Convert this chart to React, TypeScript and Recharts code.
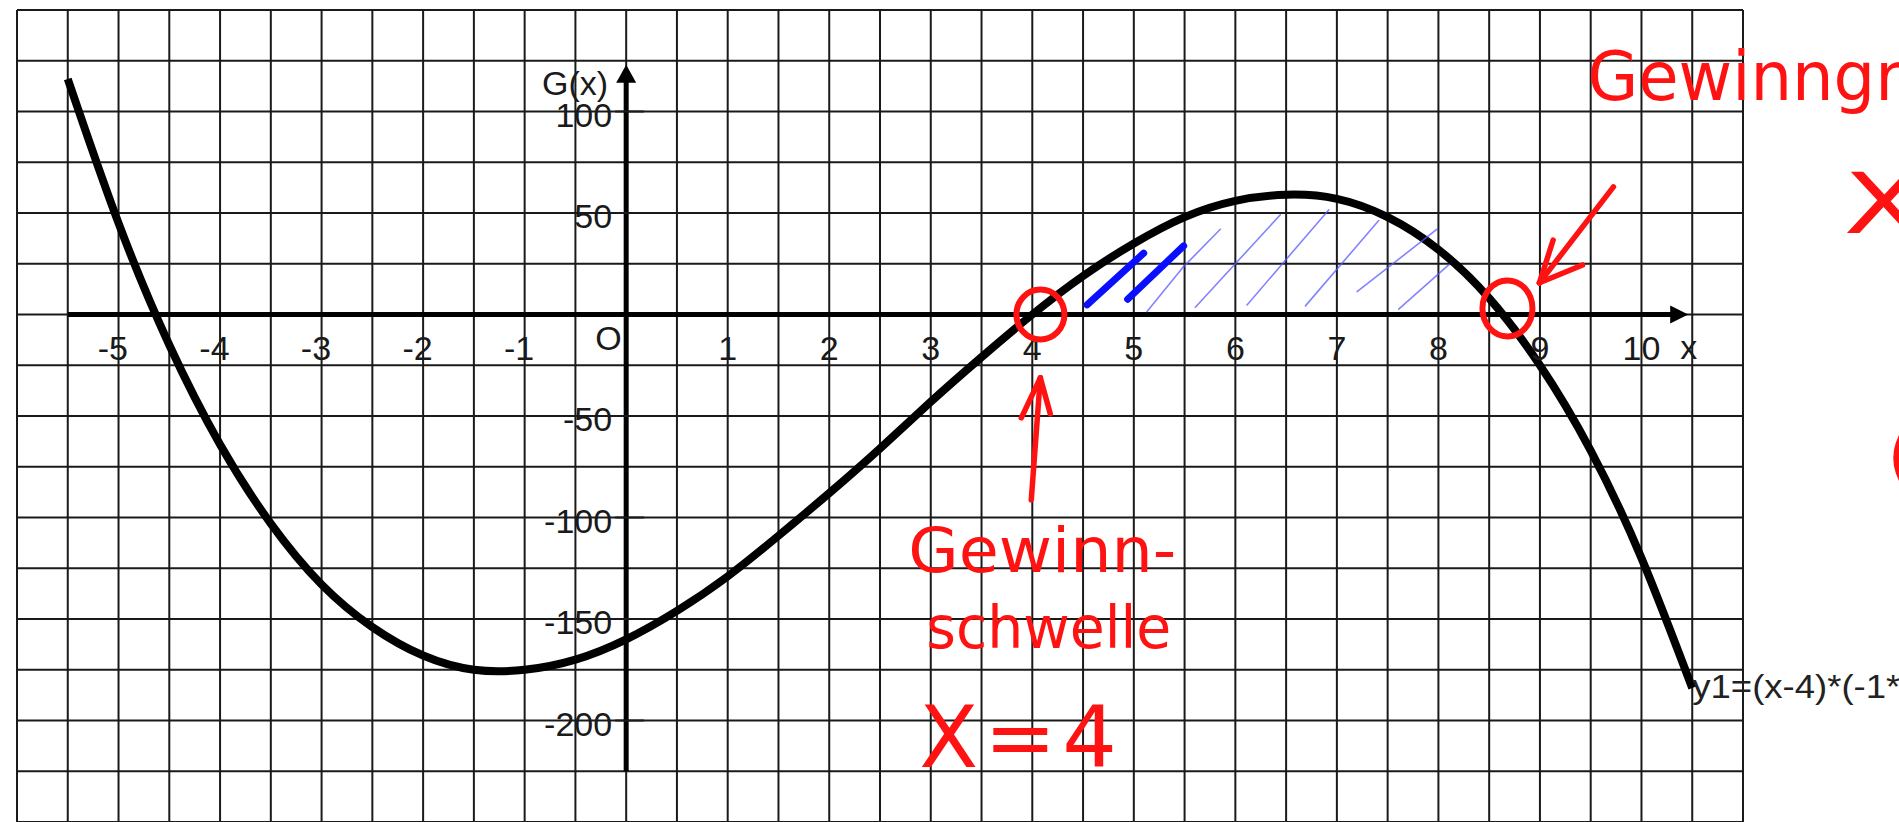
import React from "react";
import {
  CartesianGrid,
  Line,
  LineChart,
  ReferenceDot,
  ReferenceLine,
  XAxis,
  YAxis,
} from "recharts";

const curveX = [
  -5.5, -5, -4.5, -4, -3.5, -3, -2.5, -2, -1.5, -1, -0.5, 0, 0.5, 1, 1.5, 2, 2.5,
  3, 3.5, 4, 4.5, 5, 5.5, 6, 6.5, 7, 7.5, 8, 8.5, 9, 9.5, 10, 10.5,
];
const curveY = [
  116, 45, -15, -64, -103, -133, -154, -168, -175, -175, -170, -160, -146, -129,
  -109, -88, -66, -43, -21, 0, 19, 35, 48, 56, 59, 57, 48, 32, 8, -25, -67, -120,
  -184,
];

// Karopapier: Linien alle 0,5 (x) bzw. 25 (y)
const gridX = [
  -6, -5.5, -5, -4.5, -4, -3.5, -3, -2.5, -2, -1.5, -1, -0.5, 0, 0.5, 1, 1.5, 2,
  2.5, 3, 3.5, 4, 4.5, 5, 5.5, 6, 6.5, 7, 7.5, 8, 8.5, 9, 9.5, 10, 10.5, 11,
];
const gridY = [
  150, 125, 100, 75, 50, 25, 0, -25, -50, -75, -100, -125, -150, -175, -200, -225,
  -250,
];

const xTicks = [-5, -4, -3, -2, -1, 1, 2, 3, 4, 5, 6, 7, 8, 9, 10];
const yTicks = [100, 50, -50, -100, -150, -200];

// Achsen (Datenkoordinaten)
const xAxisFrom = -5.5;
const xAxisTo = 10.3;
const xArrowTip = 10.46;
const yAxisFrom = -225;
const yAxisTo = 118;
const yArrowTip = 123;

const formulaLabel = "y1=(x-4)*(-1*x^2+4*x+40)";

// rote Markierungen
const rootMarks = [
  { x: 4.08, y: 0 },
  { x: 8.68, y: 3 },
];
const redStrokes = [
  [[3.99, -91.3], [4.079, -31.2]],
  [[4.079, -31.2], [3.892, -50.9]],
  [[4.079, -31.2], [4.177, -48.9]],
  [[9.724, 62.9], [8.995, 15.6]],
  [[8.995, 15.6], [9.13, 36.7]],
  [[8.995, 15.6], [9.42, 24.4]],
];
const redNotes = [
  { text: "Gewinn-", x: 2.778, y: -126.8 },
  { text: "schwelle", x: 2.956, y: -164.3 },
  { text: "X=4", x: 2.887, y: -222.9 },
  { text: "Gewinngrenze", x: 9.468, y: 105.8 },
  { text: "X", x: 11.99, y: 40.2 },
  { text: "(", x: 12.42, y: -81.5 },
];

// blaue Schraffur
const blueThick = [
  [[4.539, 4.73], [5.097, 30.2]],
  [[4.939, 7.54], [5.491, 33.8]],
];
const blueThin = [
  [[5.13, 1.43], [5.491, 23.6]],
  [[5.491, 23.6], [5.852, 42.0]],
  [[5.606, 3.6], [6.443, 49.1]],
  [[6.115, 4.73], [6.919, 51.5]],
  [[6.69, 4.24], [7.412, 46.3]],
  [[7.199, 11.3], [7.987, 42.0]],
  [[7.609, 2.61], [8.101, 24.4]],
];

const curve = curveX.map((x, i) => ({ x, y: curveY[i] }));
const lastPoint = curve[curve.length - 1];

const INK = "#1a1a1a";
const RED = "#ff1212";
const labelFont = { fontFamily: "'Liberation Sans', Arial, sans-serif", fontSize: 34, fill: INK };
const handFont = { fontFamily: "'DejaVu Sans', sans-serif", fill: RED };
const noteStyle: Record<string, { fontSize: number; textLength?: number; letterSpacing?: number }> = {
  "Gewinn-": { fontSize: 62, textLength: 268 },
  schwelle: { fontSize: 58, textLength: 245 },
  "X=4": { fontSize: 86, letterSpacing: 6 },
  Gewinngrenze: { fontSize: 68, textLength: 470 },
  X: { fontSize: 84, textLength: 80 },
  "(": { fontSize: 70 },
};

const seg = (s: number[][]) => [
  { x: s[0][0], y: s[0][1] },
  { x: s[1][0], y: s[1][1] },
];

export default function App() {
  return (
    <div style={{ position: "absolute", left: 0, top: 0, width: 1899, height: 822, background: "#fff", overflow: "hidden" }}>
      <LineChart width={1899} height={822} data={curve} margin={{ top: 10, right: 156, bottom: 0, left: 17 }}>
        <XAxis type="number" dataKey="x" domain={[-6, 11]} ticks={gridX} hide />
        <YAxis type="number" domain={[-250, 150]} ticks={gridY} hide />
        <CartesianGrid stroke={INK} strokeWidth={2} />

        {/* Achsen */}
        <ReferenceLine segment={[{ x: xAxisFrom, y: 0 }, { x: xAxisTo, y: 0 }]} stroke="#000" strokeWidth={5} />
        <ReferenceLine segment={[{ x: 0, y: yAxisFrom }, { x: 0, y: yAxisTo }]} stroke="#000" strokeWidth={5} />
        <ReferenceDot
          x={xArrowTip}
          y={0}
          shape={(p: any) => (
            <g>
              <polygon points={`${p.cx},${p.cy} ${p.cx - 18},${p.cy - 9} ${p.cx - 18},${p.cy + 9}`} fill="#000" />
              <text x={p.cx - 8} y={p.cy + 44} {...labelFont}>x</text>
            </g>
          )}
        />
        <ReferenceDot
          x={0}
          y={yArrowTip}
          shape={(p: any) => (
            <g>
              <polygon points={`${p.cx},${p.cy} ${p.cx - 10},${p.cy + 18} ${p.cx + 10},${p.cy + 18}`} fill="#000" />
              <text x={p.cx - 18} y={p.cy + 30} textAnchor="end" {...labelFont}>G(x)</text>
            </g>
          )}
        />
        <ReferenceDot
          x={0}
          y={0}
          shape={(p: any) => (
            <text x={p.cx - 31} y={p.cy + 35} {...labelFont}>O</text>
          )}
        />
        {xTicks.map((v) => (
          <ReferenceDot
            key={`xt${v}`}
            x={v}
            y={0}
            shape={(p: any) => (
              <text
                x={v < 0 ? p.cx + 9.5 : p.cx}
                y={p.cy + 45}
                textAnchor={v < 0 ? "end" : "middle"}
                {...labelFont}
              >
                {v}
              </text>
            )}
          />
        ))}
        {yTicks.map((v) => (
          <ReferenceDot
            key={`yt${v}`}
            x={0}
            y={v}
            shape={(p: any) => (
              <g>
                <line x1={p.cx - 11} x2={p.cx + 18} y1={p.cy} y2={p.cy} stroke={INK} strokeWidth={2} />
                <text x={p.cx - 14} y={p.cy + 15} textAnchor="end" {...labelFont}>{v}</text>
              </g>
            )}
          />
        ))}

        <Line
          dataKey="y"
          type="natural"
          stroke="#000"
          strokeWidth={8}
          dot={false}
          activeDot={false}
          isAnimationActive={false}
        />
        <ReferenceDot
          x={lastPoint.x}
          y={lastPoint.y}
          ifOverflow="visible"
          shape={(p: any) => (
            <text
              x={p.cx}
              y={p.cy + 10}
              {...labelFont}
              fill="#222"
              textLength={412}
              lengthAdjust="spacingAndGlyphs"
            >
              {formulaLabel}
            </text>
          )}
        />

        {/* Schraffur */}
        {blueThin.map((s, i) => (
          <ReferenceLine key={`bt${i}`} segment={seg(s)} stroke="#5a5aff" strokeOpacity={0.75} strokeWidth={1.6} strokeLinecap="round" />
        ))}
        {blueThick.map((s, i) => (
          <ReferenceLine key={`bk${i}`} segment={seg(s)} stroke="#0a10ff" strokeWidth={7} strokeLinecap="round" />
        ))}

        {/* rote Notizen */}
        {rootMarks.map((m, i) => (
          <ReferenceDot
            key={`rm${i}`}
            x={m.x}
            y={m.y}
            shape={(p: any) => (
              <ellipse cx={p.cx} cy={p.cy} rx={i === 0 ? 24 : 25} ry={i === 0 ? 25 : 28} fill="none" stroke={RED} strokeWidth={6} />
            )}
          />
        ))}
        {redStrokes.map((s, i) => (
          <ReferenceLine key={`rs${i}`} segment={seg(s)} stroke={RED} strokeWidth={5.5} strokeLinecap="round" />
        ))}
        {redNotes.map((n) => {
          const st = noteStyle[n.text];
          return (
            <ReferenceDot
              key={n.text}
              x={n.x}
              y={n.y}
              ifOverflow="visible"
              shape={(p: any) => (
                <text
                  x={p.cx}
                  y={p.cy}
                  {...handFont}
                  fontSize={st.fontSize}
                  letterSpacing={st.letterSpacing}
                  textLength={st.textLength}
                  lengthAdjust={st.textLength ? "spacingAndGlyphs" : undefined}
                >
                  {n.text}
                </text>
              )}
            />
          );
        })}
      </LineChart>
    </div>
  );
}
